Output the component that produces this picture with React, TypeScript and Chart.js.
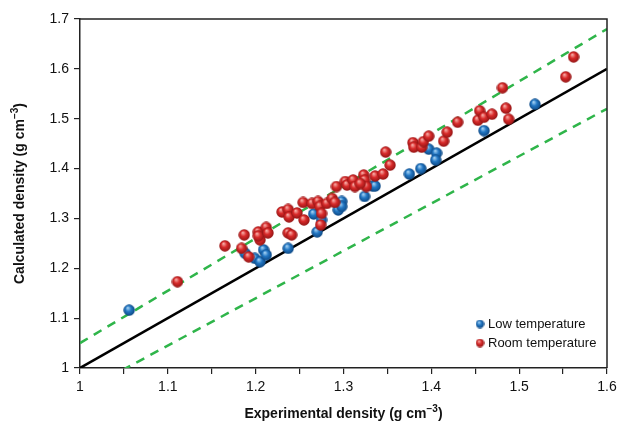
import React, { useEffect, useRef } from "react";
import { Chart, registerables } from "chart.js";

Chart.register(...registerables);

// Low temperature data (experimental, calculated)
const lowTempX = [1.056, 1.188, 1.199, 1.205, 1.209, 1.212, 1.237, 1.266, 1.270, 1.275, 1.294, 1.298, 1.298, 1.324, 1.333, 1.336, 1.375, 1.388, 1.397, 1.406, 1.405, 1.460, 1.518];
const lowTempY = [1.116, 1.230, 1.220, 1.213, 1.237, 1.227, 1.240, 1.309, 1.273, 1.297, 1.317, 1.334, 1.324, 1.344, 1.365, 1.365, 1.389, 1.400, 1.439, 1.431, 1.417, 1.476, 1.529];

// Room temperature data
const roomTempX = [1.111, 1.165, 1.184, 1.187, 1.192, 1.203, 1.205, 1.203, 1.212, 1.214, 1.230, 1.237, 1.238, 1.247, 1.237, 1.241, 1.254, 1.255, 1.264, 1.271, 1.273, 1.275, 1.274, 1.281, 1.287, 1.290, 1.292, 1.302, 1.304, 1.311, 1.313, 1.323, 1.324, 1.326, 1.336, 1.345, 1.319, 1.348, 1.353, 1.379, 1.380, 1.389, 1.391, 1.397, 1.414, 1.418, 1.430, 1.453, 1.455, 1.460, 1.469, 1.481, 1.485, 1.488, 1.553, 1.562];
const roomTempY = [1.173, 1.245, 1.240, 1.267, 1.223, 1.273, 1.257, 1.265, 1.282, 1.271, 1.313, 1.318, 1.303, 1.311, 1.271, 1.267, 1.332, 1.297, 1.330, 1.334, 1.324, 1.310, 1.287, 1.330, 1.340, 1.332, 1.364, 1.374, 1.367, 1.377, 1.364, 1.387, 1.377, 1.364, 1.385, 1.389, 1.370, 1.433, 1.407, 1.452, 1.443, 1.443, 1.454, 1.465, 1.455, 1.473, 1.493, 1.497, 1.516, 1.503, 1.509, 1.562, 1.521, 1.499, 1.584, 1.624];

// Reference lines: parity (y = x) and ±5 % bounds
const lineX = [1.0, 1.6];
const parityY = [1.0, 1.6];
const upperY = [1.05, 1.68];
const lowerY = [0.95, 1.52];

const axisMin = 1.0;
const xAxisMax = 1.6;
const yAxisMax = 1.7;

const legendLabels = ["Low temperature", "Room temperature"];
const xTitle = "Experimental density (g cm";
const yTitle = "Calculated density (g cm";
const titleSup = "\u22123";

const FONT = "'Liberation Sans', Arial, Helvetica, sans-serif";

function makeSphere(size: number, light: string, base: string, dark: string) {
  const c = document.createElement("canvas");
  c.width = size;
  c.height = size;
  const ctx = c.getContext("2d")!;
  const r = size / 2;
  const g = ctx.createRadialGradient(r * 0.75, r * 0.6, r * 0.05, r, r, r);
  g.addColorStop(0, light);
  g.addColorStop(0.45, base);
  g.addColorStop(1, dark);
  ctx.fillStyle = g;
  ctx.beginPath();
  ctx.arc(r, r, r - 0.3, 0, Math.PI * 2);
  ctx.fill();
  return c;
}

function drawSupTitle(ctx: CanvasRenderingContext2D, main: string, sup: string, cx: number, cy: number) {
  const mainFont = `bold 14px ${FONT}`;
  const supFont = `bold 10px ${FONT}`;
  ctx.font = mainFont;
  const w1 = ctx.measureText(main).width;
  const w3 = ctx.measureText(")").width;
  ctx.font = supFont;
  const w2 = ctx.measureText(sup).width;
  const total = w1 + w2 + w3;
  let x = cx - total / 2;
  ctx.textBaseline = "alphabetic";
  ctx.textAlign = "left";
  ctx.fillStyle = "#111";
  const base = cy + 5;
  ctx.font = mainFont;
  ctx.fillText(main, x, base);
  x += w1;
  ctx.font = supFont;
  ctx.fillText(sup, x, base - 6);
  x += w2;
  ctx.font = mainFont;
  ctx.fillText(")", x, base);
}

export default function App() {
  const ref = useRef<HTMLCanvasElement | null>(null);

  useEffect(() => {
    if (!ref.current) return;
    const blueBall = makeSphere(12, "#a8d4f5", "#2277c4", "#0c447e");
    const redBall = makeSphere(12, "#f7b0aa", "#d92b2b", "#8e1212");
    const blueSmall = makeSphere(9, "#a8d4f5", "#2277c4", "#0c447e");
    const redSmall = makeSphere(9, "#f7b0aa", "#d92b2b", "#8e1212");

    const extras = {
      id: "extras",
      afterDraw(chart: any) {
        const { ctx, chartArea } = chart;
        ctx.save();
        // frame top & right
        ctx.strokeStyle = "#222";
        ctx.lineWidth = 1.5;
        ctx.beginPath();
        ctx.moveTo(chartArea.left, chartArea.top);
        ctx.lineTo(chartArea.right, chartArea.top);
        ctx.lineTo(chartArea.right, chartArea.bottom);
        ctx.stroke();
        // legend
        const items = [
          { img: blueSmall, label: legendLabels[0], y: 324 },
          { img: redSmall, label: legendLabels[1], y: 343 },
        ];
        ctx.font = `13px ${FONT}`;
        ctx.fillStyle = "#111";
        ctx.textBaseline = "middle";
        ctx.textAlign = "left";
        for (const it of items) {
          ctx.drawImage(it.img, 480 - 4.5, it.y - 4.5);
          ctx.fillText(it.label, 488, it.y);
        }
        // axis titles
        drawSupTitle(ctx, xTitle, titleSup, (chartArea.left + chartArea.right) / 2, 413);
        ctx.save();
        ctx.translate(19, (chartArea.top + chartArea.bottom) / 2);
        ctx.rotate(-Math.PI / 2);
        drawSupTitle(ctx, yTitle, titleSup, 0, 0);
        ctx.restore();
        ctx.restore();
      },
    };

    const chart = new Chart(ref.current, {
      type: "scatter",
      data: {
        datasets: [
          {
            label: legendLabels[0],
            data: lowTempX.map((x, i) => ({ x, y: lowTempY[i] })),
            pointStyle: blueBall as any,
            pointRadius: 6,
            order: 1,
          },
          {
            label: legendLabels[1],
            data: roomTempX.map((x, i) => ({ x, y: roomTempY[i] })),
            pointStyle: redBall as any,
            pointRadius: 6,
            order: 0,
          },
          {
            type: "line",
            label: "parity",
            data: lineX.map((x, i) => ({ x, y: parityY[i] })),
            borderColor: "#000",
            borderWidth: 2.5,
            pointRadius: 0,
            order: 5,
          } as any,
          {
            type: "line",
            label: "upper",
            data: lineX.map((x, i) => ({ x, y: upperY[i] })),
            borderColor: "#2fb54a",
            borderWidth: 2.5,
            borderDash: [9, 7],
            pointRadius: 0,
            order: 5,
          } as any,
          {
            type: "line",
            label: "lower",
            data: lineX.map((x, i) => ({ x, y: lowerY[i] })),
            borderColor: "#2fb54a",
            borderWidth: 2.5,
            borderDash: [9, 7],
            pointRadius: 0,
            order: 5,
          } as any,
        ],
      },
      options: {
        responsive: false,
        animation: false,
        devicePixelRatio: 1,
        layout: { padding: { left: 0, top: 19, right: 11, bottom: 0 } },
        plugins: { legend: { display: false }, tooltip: { enabled: false } },
        scales: {
          x: {
            type: "linear",
            min: axisMin,
            max: xAxisMax,
            afterFit: (s: any) => {
              s.height = 57;
              s.paddingRight = 0;
              s.paddingLeft = 0;
            },
            ticks: {
              stepSize: 0.05,
              padding: 5,
              color: "#111",
              font: { family: FONT, size: 14 },
              maxRotation: 0,
              autoSkip: false,
              callback: (v: any) => {
                const r = Math.round(Number(v) * 100);
                if (r % 10 !== 0) return "";
                return String(r / 100);
              },
            },
            grid: { drawOnChartArea: false, drawTicks: true, tickLength: 6, color: "#222", lineWidth: 1.2 },
            border: { display: true, color: "#222", width: 1.5 },
          },
          y: {
            type: "linear",
            min: axisMin,
            max: yAxisMax,
            afterFit: (s: any) => {
              s.width = 80;
              s.paddingTop = 0;
              s.paddingBottom = 0;
            },
            ticks: {
              stepSize: 0.1,
              padding: 5,
              color: "#111",
              font: { family: FONT, size: 14 },
              callback: (v: any) => String(Math.round(Number(v) * 10) / 10),
            },
            grid: { drawOnChartArea: false, drawTicks: true, tickLength: 6, color: "#222", lineWidth: 1.2 },
            border: { display: true, color: "#222", width: 1.5 },
          },
        },
      },
      plugins: [extras],
    } as any);
    return () => chart.destroy();
  }, []);

  return (
    <div style={{ position: "absolute", left: 0, top: 0, width: 618, height: 425, background: "#fff" }}>
      <canvas ref={ref} width={618} height={425} style={{ width: 618, height: 425, display: "block" }} />
    </div>
  );
}
